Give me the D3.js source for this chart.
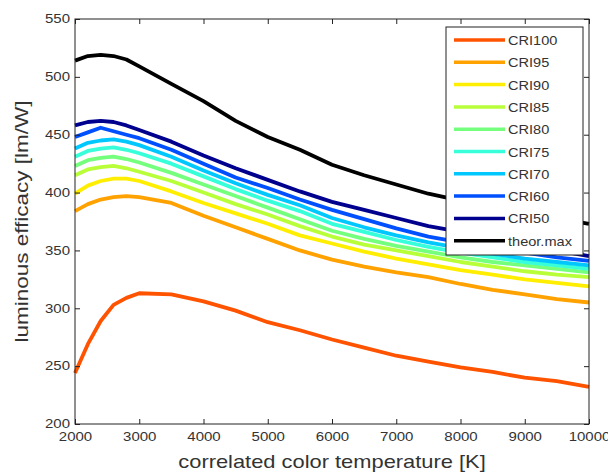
<!DOCTYPE html>
<html>
<head>
<meta charset="utf-8">
<script src="https://cdn.jsdelivr.net/npm/d3@7"></script>
<style>
  body { margin: 0; background: #fff; }
  text { font-family: "Liberation Sans", Arial, sans-serif; }
</style>
</head>
<body>
<script>
// colour temperature grid [K]
const cct = [2000, 2200, 2400, 2600, 2800, 3000, 3500, 4000, 4500, 5000, 5500, 6000, 6500, 7000, 7500, 8000, 8500, 9000, 9500, 10000];

// luminous efficacy [lm/W]
const cri100 = [244, 269, 289, 303, 309, 313, 312, 306, 298, 288, 281, 273, 266, 259, 254, 249, 245, 240, 237, 232];
const cri95  = [384, 390, 394, 396, 397, 396, 391, 380, 370, 360, 350, 342, 336, 331, 327, 321, 316, 312, 308, 305];
const cri90  = [399, 406, 410, 412, 412, 410, 401, 391, 382, 373, 363, 356, 349, 343, 338, 333, 329, 325, 322, 319];
const cri85  = [415, 420, 422, 423, 421, 418, 410, 400, 390, 381, 371, 362, 355, 350, 345, 340, 336, 332, 329, 327];
const cri80  = [423, 428, 430, 431, 429, 426, 417, 407, 397, 387, 377, 367, 360, 354, 349, 344, 340, 337, 334, 331];
const cri75  = [431, 436, 438, 439, 437, 434, 425, 414, 403, 393, 384, 373, 366, 359, 353, 348, 344, 340, 337, 334];
const cri70  = [438, 443, 445, 446, 444, 441, 431, 419, 408, 398, 389, 378, 370, 363, 357, 352, 347, 343, 340, 337];
const cri60  = [448, 452, 456, 453, 450, 447, 437, 425, 413, 404, 394, 385, 377, 369, 362, 357, 352, 348, 344, 341];
const cri50  = [458, 461, 462, 461, 458, 454, 444, 432, 421, 411, 401, 392, 385, 378, 371, 366, 360, 355, 350, 345];
const theorMax = [514, 518, 519, 518, 515, 509, 494, 479, 462, 448, 437, 424, 415, 407, 399, 393, 388, 383, 378, 373];

const names  = ["CRI100", "CRI95", "CRI90", "CRI85", "CRI80", "CRI75", "CRI70", "CRI60", "CRI50", "theor.max"];
const values = [cri100, cri95, cri90, cri85, cri80, cri75, cri70, cri60, cri50, theorMax];
const colors = ["#ff5300", "#ffa200", "#ffee00", "#b8ff3a", "#74ff7c", "#36ffda", "#00c8ff", "#0050ff", "#00008f", "#000000"];

const xTicks = d3.range(2000, 10001, 1000);
const yTicks = d3.range(200, 551, 50);

const width = 608, height = 472;
const margin = {top: 19, right: 19, bottom: 48, left: 75};
const stretch = 1.25; // the original text is drawn a bit wide

const svg = d3.select("body").append("svg")
    .attr("width", width)
    .attr("height", height);

const x = d3.scaleLinear().domain([2000, 10000]).range([margin.left, width - margin.right]);
const y = d3.scaleLinear().domain([200, 550]).range([height - margin.bottom, margin.top]);

// lines
const line = d3.line()
    .x((d, i) => x(cct[i]))
    .y(d => y(d));

svg.append("g").selectAll("path")
    .data(values)
    .join("path")
    .attr("d", line)
    .attr("fill", "none")
    .attr("stroke", (d, i) => colors[i])
    .attr("stroke-width", 3.8)
    .attr("stroke-linejoin", "round");

// axes, ticks inside on all four sides
function styleAxis(g) {
    g.select(".domain").remove();
    g.selectAll("line").attr("stroke", "#222");
    g.selectAll("text").attr("fill", "#333").attr("font-size", 12);
}

svg.append("g")
    .attr("transform", `translate(0,${y(200)})`)
    .call(d3.axisBottom(x).tickValues(xTicks).tickFormat(d3.format("d")).tickSizeInner(-5).tickSizeOuter(0).tickPadding(8))
    .call(styleAxis)
    .call(g => g.selectAll("text").attr("transform", `scale(${stretch},1)`));

svg.append("g")
    .attr("transform", `translate(0,${y(550)})`)
    .call(d3.axisTop(x).tickValues(xTicks).tickFormat("").tickSizeInner(-5).tickSizeOuter(0))
    .call(styleAxis);

svg.append("g")
    .attr("transform", `translate(${x(2000)},0)`)
    .call(d3.axisLeft(y).tickValues(yTicks).tickFormat(d3.format("d")).tickSizeInner(-5).tickSizeOuter(0).tickPadding(4))
    .call(styleAxis)
    .call(g => g.selectAll("text").attr("transform", `scale(${stretch},1)`));

svg.append("g")
    .attr("transform", `translate(${x(10000)},0)`)
    .call(d3.axisRight(y).tickValues(yTicks).tickFormat("").tickSizeInner(-5).tickSizeOuter(0))
    .call(styleAxis);

svg.append("rect")
    .attr("x", x(2000)).attr("y", y(550))
    .attr("width", x(10000) - x(2000)).attr("height", y(200) - y(550))
    .attr("fill", "none").attr("stroke", "#222").attr("stroke-width", 1);

// axis titles
svg.append("text")
    .attr("transform", `translate(${(x(2000) + x(10000)) / 2},468) scale(${stretch},1)`)
    .attr("text-anchor", "middle")
    .attr("font-size", 17.5)
    .attr("fill", "#333")
    .text("correlated color temperature [K]");

svg.append("text")
    .attr("transform", `translate(28,${(y(200) + y(550)) / 2}) rotate(-90) scale(${stretch},1)`)
    .attr("text-anchor", "middle")
    .attr("font-size", 18)
    .attr("fill", "#333")
    .text("luminous efficacy [lm/W]");

// legend
const lg = svg.append("g").attr("transform", "translate(446,27)");
lg.append("rect")
    .attr("width", 137).attr("height", 228)
    .attr("fill", "#fff").attr("stroke", "#222").attr("stroke-width", 1);

const rows = lg.selectAll("g.row")
    .data(names)
    .join("g")
    .attr("class", "row")
    .attr("transform", (d, i) => `translate(0,${13 + i * 22.3})`);

rows.append("line")
    .attr("x1", 8).attr("x2", 59)
    .attr("stroke", (d, i) => colors[i])
    .attr("stroke-width", 3.5);

rows.append("text")
    .attr("transform", "translate(62,5) scale(1.12,1)")
    .attr("font-size", 13)
    .attr("fill", "#333")
    .text(d => d);
</script>
</body>
</html>
